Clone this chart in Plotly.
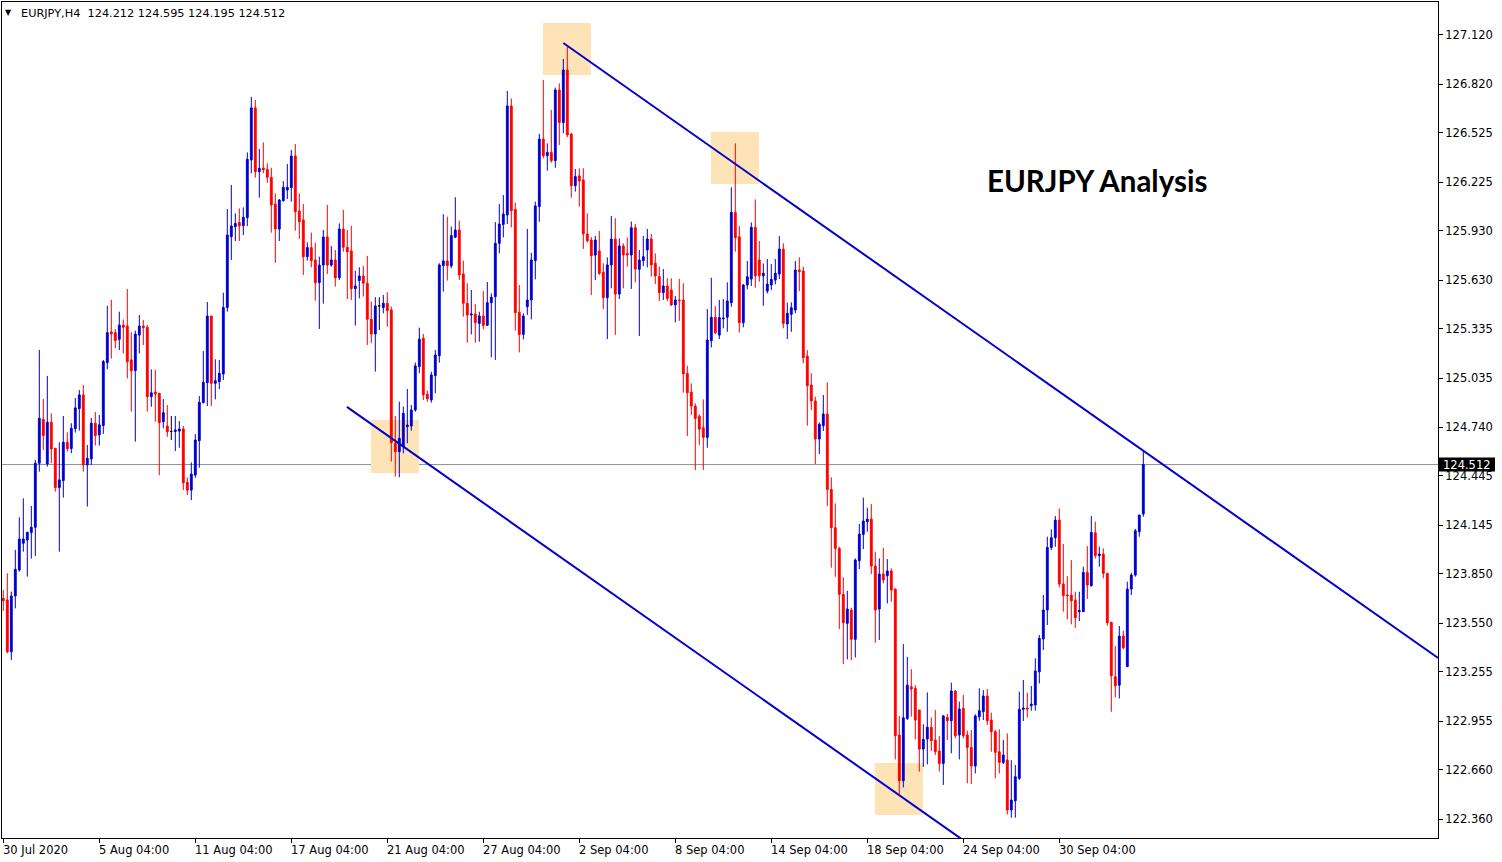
import plotly.graph_objects as go

# ---------------- data (EURJPY, H4) ----------------
open_ = [
    123.700, 123.690, 123.376, 123.714, 123.872, 124.034, 124.054, 124.099, 124.131, 124.520,
    124.787, 124.516, 124.769, 124.611, 124.372, 124.415, 124.647, 124.609, 124.730, 124.852,
    124.935, 124.510, 124.546, 124.763, 124.692, 124.749, 125.131, 125.317, 125.313, 125.272,
    125.359, 125.353, 125.147, 125.082, 125.298, 125.353, 125.345, 124.924, 124.952, 124.944,
    124.772, 124.746, 124.713, 124.713, 124.715, 124.728, 124.404, 124.357, 124.448, 124.657,
    124.888, 125.009, 125.414, 125.005, 125.015, 125.062, 125.466, 125.895, 125.956, 125.982,
    125.962, 126.011, 126.361, 126.677, 126.290, 126.312, 126.304, 126.256, 126.094, 125.942,
    126.114, 126.179, 126.193, 126.385, 126.051, 125.997, 125.774, 125.829, 125.754, 125.616,
    125.723, 125.893, 125.723, 125.754, 125.646, 125.942, 125.831, 125.809, 125.580, 125.629,
    125.657, 125.613, 125.394, 125.305, 125.475, 125.465, 125.491, 125.451, 124.641, 124.590,
    124.621, 124.742, 124.746, 124.843, 125.107, 125.279, 124.939, 124.904, 125.052, 125.173,
    125.720, 125.748, 125.718, 125.892, 125.936, 125.669, 125.491, 125.420, 125.426, 125.369,
    125.414, 125.357, 125.495, 125.531, 125.855, 125.970, 126.027, 126.689, 126.061, 125.436,
    125.302, 125.470, 125.511, 125.750, 126.078, 126.488, 126.387, 126.407, 126.357, 126.786,
    126.588, 126.907, 126.519, 126.205, 126.264, 126.240, 125.912, 125.875, 125.784, 125.809,
    125.679, 125.525, 125.724, 125.881, 125.547, 125.839, 125.794, 125.784, 125.950, 125.697,
    125.750, 125.815, 125.881, 125.734, 125.653, 125.556, 125.596, 125.572, 125.481, 125.511,
    125.511, 125.066, 124.952, 124.867, 124.806, 124.736, 124.677, 125.264, 125.406, 125.298,
    125.397, 125.406, 125.495, 126.043, 125.895, 125.373, 125.602, 125.638, 125.952, 125.754,
    125.658, 125.565, 125.602, 125.632, 125.669, 125.820, 125.365, 125.424, 125.450, 125.693,
    125.687, 125.171, 124.995, 124.898, 124.667, 124.748, 124.819, 124.361, 124.129, 124.003,
    123.724, 123.548, 123.629, 123.451, 123.928, 124.088, 124.165, 124.181, 123.896, 123.635,
    123.847, 123.837, 123.866, 123.756, 122.870, 122.592, 122.971, 123.163, 123.153, 123.022,
    122.785, 122.846, 122.917, 122.840, 122.773, 122.698, 122.977, 122.957, 123.137, 122.870,
    123.032, 122.870, 122.795, 122.682, 122.981, 123.012, 123.107, 122.961, 122.890, 122.769,
    122.704, 122.718, 122.415, 122.471, 122.607, 123.026, 123.034, 123.048, 123.052, 123.254,
    123.453, 123.629, 124.009, 124.068, 124.175, 123.787, 123.720, 123.720, 123.689, 123.619,
    123.619, 123.857, 123.777, 124.098, 123.959, 123.969, 123.851, 123.554, 123.224, 123.173,
    123.471, 123.285, 123.756, 123.841, 124.104, 124.212,
]
high_ = [
    123.751, 123.852, 123.741, 123.994, 124.192, 124.307, 124.101, 124.261, 124.540, 125.208,
    124.910, 125.050, 124.823, 124.611, 124.647, 124.807, 124.708, 124.763, 124.916, 124.965,
    124.995, 124.631, 124.795, 124.831, 124.813, 125.147, 125.475, 125.512, 125.335, 125.440,
    125.393, 125.578, 125.315, 125.325, 125.420, 125.389, 125.359, 125.090, 125.086, 124.948,
    124.910, 124.873, 124.807, 124.807, 124.776, 124.746, 124.434, 124.525, 124.697, 124.928,
    125.201, 125.499, 125.414, 125.151, 125.147, 125.555, 126.063, 126.209, 126.037, 126.067,
    126.073, 126.407, 126.744, 126.725, 126.428, 126.468, 126.341, 126.314, 126.158, 126.124,
    126.233, 126.337, 126.422, 126.458, 126.158, 126.094, 125.861, 125.920, 125.859, 125.774,
    125.936, 126.088, 125.839, 125.814, 125.976, 126.057, 125.936, 125.961, 125.689, 125.710,
    125.718, 125.779, 125.501, 125.528, 125.528, 125.542, 125.558, 125.471, 124.807, 124.894,
    124.864, 124.971, 124.874, 125.131, 125.343, 125.305, 124.961, 125.076, 125.208, 125.734,
    126.032, 126.017, 125.957, 126.135, 125.993, 125.750, 125.612, 125.572, 125.487, 125.440,
    125.565, 125.620, 125.551, 125.984, 126.094, 126.148, 126.780, 126.735, 126.102, 125.602,
    125.430, 125.942, 125.798, 126.108, 126.519, 126.847, 126.462, 126.665, 126.800, 126.826,
    126.974, 127.049, 126.523, 126.306, 126.310, 126.311, 126.037, 125.892, 125.900, 125.930,
    125.734, 125.770, 126.021, 126.007, 125.885, 125.855, 125.890, 125.987, 125.973, 125.815,
    125.900, 125.942, 125.912, 125.794, 125.713, 125.699, 125.643, 125.643, 125.535, 125.639,
    125.612, 125.112, 125.005, 124.883, 124.817, 124.908, 125.456, 125.646, 125.474, 125.511,
    125.517, 125.618, 126.195, 126.462, 125.960, 125.608, 125.748, 125.982, 126.122, 125.869,
    125.733, 125.760, 125.729, 125.760, 125.899, 125.855, 125.495, 125.497, 125.748, 125.770,
    125.713, 125.207, 125.066, 124.924, 124.768, 124.934, 125.011, 124.434, 124.276, 124.013,
    123.827, 123.746, 123.643, 123.942, 124.151, 124.311, 124.250, 124.272, 123.983, 123.942,
    124.007, 123.938, 123.882, 123.760, 122.985, 123.422, 123.345, 123.270, 123.173, 123.022,
    122.936, 123.129, 122.977, 123.022, 122.864, 122.992, 122.998, 123.188, 123.143, 123.073,
    123.113, 122.896, 122.901, 122.996, 123.154, 123.143, 123.149, 123.006, 122.901, 122.905,
    122.840, 122.880, 122.718, 122.688, 123.133, 123.204, 123.127, 123.168, 123.336, 123.477,
    123.720, 124.074, 124.119, 124.200, 124.246, 124.030, 123.835, 123.932, 123.740, 123.740,
    123.892, 124.017, 124.200, 124.165, 124.013, 124.003, 123.855, 123.558, 123.410, 123.532,
    123.503, 123.801, 123.855, 124.121, 124.206, 124.595,
]
low_ = [
    123.623, 123.366, 123.326, 123.639, 123.862, 123.983, 123.832, 123.941, 123.957, 124.469,
    124.601, 124.500, 124.520, 124.348, 123.983, 124.311, 124.591, 124.581, 124.706, 124.718,
    124.469, 124.257, 124.510, 124.627, 124.627, 124.698, 125.091, 125.155, 125.218, 125.207,
    125.187, 125.035, 124.833, 124.651, 125.187, 125.238, 124.833, 124.863, 124.772, 124.448,
    124.732, 124.681, 124.661, 124.594, 124.614, 124.357, 124.327, 124.296, 124.432, 124.493,
    124.883, 124.867, 124.867, 124.908, 124.970, 125.025, 125.440, 125.754, 125.869, 125.869,
    125.905, 125.960, 126.280, 126.254, 126.132, 126.280, 126.223, 125.920, 125.737, 125.869,
    126.108, 126.124, 126.108, 125.932, 125.881, 125.663, 125.750, 125.709, 125.507, 125.335,
    125.489, 125.669, 125.713, 125.592, 125.632, 125.804, 125.517, 125.511, 125.356, 125.521,
    125.532, 125.238, 125.248, 125.076, 125.329, 125.430, 125.349, 124.530, 124.439, 124.435,
    124.580, 124.641, 124.718, 124.833, 125.066, 124.904, 124.894, 124.888, 124.945, 125.131,
    125.562, 125.629, 125.704, 125.886, 125.633, 125.410, 125.252, 125.302, 125.252, 125.258,
    125.335, 125.355, 125.163, 125.147, 125.794, 125.891, 125.972, 125.952, 125.325, 125.193,
    125.272, 125.420, 125.393, 125.636, 125.986, 126.371, 126.296, 126.345, 126.314, 126.452,
    126.523, 126.499, 126.132, 126.169, 126.078, 125.821, 125.859, 125.541, 125.632, 125.663,
    125.456, 125.274, 125.582, 125.299, 125.517, 125.582, 125.713, 125.578, 125.618, 125.292,
    125.717, 125.709, 125.653, 125.608, 125.505, 125.511, 125.505, 125.475, 125.375, 125.384,
    124.948, 124.685, 124.813, 124.479, 124.630, 124.479, 124.614, 125.223, 125.304, 125.274,
    125.339, 125.318, 125.470, 125.804, 125.314, 125.345, 125.576, 125.596, 125.586, 125.622,
    125.476, 125.551, 125.571, 125.606, 125.638, 125.339, 125.274, 125.318, 125.430, 125.565,
    125.126, 124.748, 124.843, 124.515, 124.576, 124.716, 124.260, 123.886, 123.831, 123.513,
    123.301, 123.329, 123.325, 123.341, 123.878, 123.999, 124.104, 123.847, 123.430, 123.447,
    123.791, 123.669, 123.679, 122.722, 122.511, 122.552, 122.961, 122.981, 122.843, 122.647,
    122.677, 122.692, 122.773, 122.749, 122.648, 122.567, 122.840, 122.759, 122.850, 122.722,
    122.850, 122.577, 122.573, 122.637, 122.957, 122.961, 122.931, 122.769, 122.607, 122.637,
    122.694, 122.388, 122.368, 122.368, 122.597, 122.955, 122.977, 123.018, 123.018, 123.183,
    123.386, 123.538, 123.993, 124.013, 123.766, 123.619, 123.572, 123.542, 123.521, 123.562,
    123.619, 123.696, 123.770, 123.942, 123.892, 123.821, 123.534, 123.011, 123.098, 123.092,
    123.390, 123.285, 123.720, 123.831, 124.074, 124.195,
]
close_ = [
    123.686, 123.376, 123.714, 123.876, 124.060, 124.060, 124.101, 124.131, 124.520, 124.793,
    124.688, 124.769, 124.607, 124.372, 124.419, 124.647, 124.609, 124.732, 124.856, 124.935,
    124.510, 124.550, 124.763, 124.688, 124.753, 125.137, 125.313, 125.305, 125.265, 125.359,
    125.345, 125.136, 125.082, 125.304, 125.353, 125.343, 124.924, 124.948, 124.940, 124.766,
    124.827, 124.711, 124.713, 124.722, 124.728, 124.402, 124.357, 124.454, 124.661, 124.890,
    125.011, 125.414, 125.005, 125.021, 125.066, 125.466, 125.906, 125.960, 125.976, 125.960,
    126.013, 126.365, 126.677, 126.290, 126.310, 126.302, 126.256, 126.088, 125.942, 126.118,
    126.195, 126.195, 126.385, 126.047, 125.986, 125.774, 125.829, 125.750, 125.616, 125.723,
    125.893, 125.723, 125.754, 125.646, 125.942, 125.831, 125.804, 125.580, 125.596, 125.657,
    125.613, 125.394, 125.305, 125.475, 125.475, 125.491, 125.447, 124.645, 124.590, 124.671,
    124.823, 124.752, 124.843, 125.111, 125.273, 124.935, 124.912, 125.056, 125.177, 125.724,
    125.748, 125.720, 125.902, 125.936, 125.663, 125.491, 125.420, 125.426, 125.373, 125.414,
    125.357, 125.495, 125.527, 125.855, 125.972, 126.033, 126.689, 126.053, 125.434, 125.302,
    125.414, 125.511, 125.754, 126.082, 126.488, 126.387, 126.407, 126.357, 126.786, 126.588,
    126.907, 126.513, 126.205, 126.260, 126.233, 125.912, 125.871, 125.780, 125.875, 125.673,
    125.525, 125.724, 125.881, 125.547, 125.839, 125.784, 125.784, 125.950, 125.699, 125.754,
    125.774, 125.881, 125.724, 125.657, 125.556, 125.596, 125.521, 125.481, 125.511, 125.507,
    125.062, 124.948, 124.867, 124.792, 124.727, 124.677, 125.268, 125.406, 125.312, 125.404,
    125.401, 125.505, 126.043, 125.889, 125.373, 125.602, 125.652, 125.952, 125.658, 125.658,
    125.673, 125.608, 125.636, 125.673, 125.820, 125.369, 125.430, 125.464, 125.693, 125.683,
    125.161, 124.991, 124.898, 124.667, 124.756, 124.819, 124.361, 124.129, 124.003, 123.724,
    123.552, 123.635, 123.451, 123.932, 124.090, 124.169, 124.181, 123.896, 123.629, 123.847,
    123.811, 123.866, 123.750, 122.866, 122.592, 122.975, 123.173, 123.149, 122.961, 122.785,
    122.843, 122.917, 122.836, 122.769, 122.698, 122.986, 122.957, 123.137, 122.866, 123.028,
    122.866, 122.795, 122.682, 122.986, 123.018, 123.107, 122.957, 122.890, 122.765, 122.704,
    122.749, 122.415, 122.475, 122.617, 123.026, 123.034, 123.028, 123.058, 123.259, 123.457,
    123.629, 124.009, 124.068, 124.175, 123.787, 123.716, 123.716, 123.685, 123.582, 123.625,
    123.857, 123.781, 124.100, 123.959, 123.969, 123.851, 123.552, 123.230, 123.169, 123.471,
    123.400, 123.756, 123.841, 124.110, 124.206, 124.512,
]

# time-axis labels: bar index where each label sits, and its text
x_tick_bars = [0, 24, 48, 72, 96, 120, 144, 168, 192, 216, 240, 264]
x_tick_text = ["30 Jul 2020", "5 Aug 04:00", "11 Aug 04:00", "17 Aug 04:00",
               "21 Aug 04:00", "27 Aug 04:00", "2 Sep 04:00", "8 Sep 04:00",
               "14 Sep 04:00", "18 Sep 04:00", "24 Sep 04:00", "30 Sep 04:00"]

# price-axis labels
y_tick_vals = [127.120, 126.820, 126.525, 126.225, 125.930, 125.630, 125.335, 125.035,
               124.740, 124.445, 124.145, 123.850, 123.550, 123.255, 122.955, 122.660, 122.360]

symbol = "EURJPY,H4"
last_price = 124.512
chart_title = "EURJPY Analysis"

# channel lines (bar index, price)
upper_line_bars = [140.0, 358.7]
upper_line_prices = [127.071, 123.338]
lower_line_bars = [85.9, 245.0]
lower_line_prices = [124.862, 122.146]

# highlighted touch zones (bar index from/to, price from/to)
zone_bar0 = [134.9, 176.9, 91.9, 217.9]
zone_bar1 = [146.9, 188.9, 103.9, 229.9]
zone_p0 = [126.877, 126.215, 124.461, 122.385]
zone_p1 = [127.193, 126.531, 124.783, 122.700]

# ---------------- styling ----------------
BLUE = "#0000CD"
RED = "#FF0000"
FONT = "DejaVu Sans"
W, H = 1502, 862
M_L, M_R, M_T, M_B = 2, 64, 2, 24
PLOT_W = W - M_L - M_R
PLOT_H = H - M_T - M_B
Y_RANGE = [122.245, 127.320]
X_RANGE = [-0.325, 358.675]
px_per_price = PLOT_H / (Y_RANGE[1] - Y_RANGE[0])

bars = list(range(len(close_)))
is_doji = [o == c for o, c in zip(open_, close_)]


def keep(arr, mask):
    return [v if m else None for v, m in zip(arr, mask)]


normal = [not d for d in is_doji]

fig = go.Figure()

for b0, b1, p0, p1 in zip(zone_bar0, zone_bar1, zone_p0, zone_p1):
    fig.add_shape(type="rect", xref="x", yref="y", x0=b0, x1=b1, y0=p0, y1=p1,
                  fillcolor="#FDE3B6", line_width=0, layer="below")

fig.add_shape(type="line", xref="paper", yref="y", x0=0, x1=1,
              y0=last_price, y1=last_price,
              line=dict(color="#8C8F94", width=1), layer="below")

fig.add_trace(go.Candlestick(
    x=bars, open=keep(open_, normal), high=keep(high_, normal),
    low=keep(low_, normal), close=keep(close_, normal),
    increasing=dict(line=dict(color=BLUE, width=1), fillcolor=BLUE),
    decreasing=dict(line=dict(color=RED, width=1), fillcolor=RED),
    whiskerwidth=0, hoverinfo="skip", showlegend=False))

fig.add_trace(go.Candlestick(
    x=bars, open=keep(open_, is_doji), high=keep(high_, is_doji),
    low=keep(low_, is_doji), close=keep(close_, is_doji),
    increasing=dict(line=dict(color="black", width=1), fillcolor="black"),
    decreasing=dict(line=dict(color="black", width=1), fillcolor="black"),
    whiskerwidth=0, hoverinfo="skip", showlegend=False))

for lx, ly in ((upper_line_bars, upper_line_prices), (lower_line_bars, lower_line_prices)):
    fig.add_trace(go.Scatter(x=lx, y=ly, mode="lines",
                             line=dict(color=BLUE, width=2),
                             hoverinfo="skip", showlegend=False))

# time labels (left-aligned at their bar, like MT4)
for b, t in zip(x_tick_bars, x_tick_text):
    fig.add_annotation(x=b, xref="x", y=0, yref="paper", text=t, showarrow=False,
                       xanchor="left", yanchor="top", yshift=-3, xshift=-2,
                       font=dict(family=FONT, size=11.5, color="black"))

# header
fig.add_annotation(x=0, xref="paper", y=1, yref="paper", text="▼", showarrow=False,
                   xanchor="left", yanchor="top", xshift=1, yshift=-4,
                   font=dict(family=FONT, size=8, color="black"))
fig.add_annotation(x=0, xref="paper", y=1, yref="paper",
                   text=f"{symbol}  {open_[-1]:.3f} {high_[-1]:.3f} {low_[-1]:.3f} {close_[-1]:.3f}",
                   showarrow=False, xanchor="left", yanchor="top", xshift=17, yshift=-3,
                   font=dict(family=FONT, size=11.3, color="black"))

# title
fig.add_annotation(x=(985 - M_L) / PLOT_W, xref="paper", y=1 - (181 - M_T) / PLOT_H, yref="paper",
                   text=f"<b>{chart_title}</b>", showarrow=False, xanchor="left", yanchor="middle",
                   font=dict(family="Lato", size=29.5, color="black"))

# last price tag on the axis
half_tag = 7 / px_per_price
fig.add_shape(type="rect", xref="paper", yref="y", x0=1, x1=1 + 57 / PLOT_W,
              y0=last_price - half_tag, y1=last_price + half_tag,
              fillcolor="black", line_width=0, layer="above")
fig.add_annotation(x=1 + 28.5 / PLOT_W, xref="paper", y=last_price, yref="y",
                   text=f"{last_price:.3f}", showarrow=False, xanchor="center", yanchor="middle",
                   font=dict(family=FONT, size=11.5, color="white"))

fig.update_layout(
    width=W, height=H,
    margin=dict(l=M_L, r=M_R, t=M_T, b=M_B, pad=0),
    paper_bgcolor="white", plot_bgcolor="white",
    showlegend=False, boxgap=0.35,
    xaxis=dict(range=X_RANGE, showgrid=False, zeroline=False,
               showline=True, mirror=True, linecolor="black", linewidth=1,
               ticks="outside", ticklen=4, tickcolor="black",
               tickvals=x_tick_bars, showticklabels=False,
               rangeslider=dict(visible=False), fixedrange=True),
    yaxis=dict(range=Y_RANGE, side="right", showgrid=False, zeroline=False,
               showline=True, mirror=True, linecolor="black", linewidth=1,
               ticks="outside", ticklen=4, tickcolor="black",
               tickvals=y_tick_vals, ticktext=[f"{v:.3f}" for v in y_tick_vals],
               tickfont=dict(family=FONT, size=11.5, color="black"), fixedrange=True),
)

fig.write_html("out.html", post_script="document.body.style.margin='0px';",
               config=dict(displayModeBar=False))
